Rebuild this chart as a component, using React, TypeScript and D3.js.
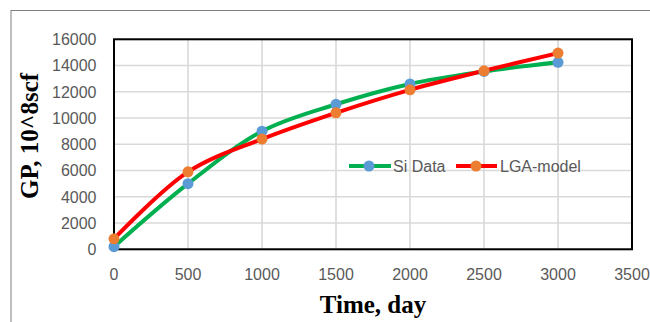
import React from "react";
import * as d3 from "d3";

const days = [0, 500, 1000, 1500, 2000, 2500, 3000];
const siData = [200, 5000, 9000, 11050, 12600, 13550, 14250];
const lgaModel = [800, 5900, 8400, 10400, 12150, 13600, 14950];
const xTicks = [0, 500, 1000, 1500, 2000, 2500, 3000, 3500];
const yTicks = [0, 2000, 4000, 6000, 8000, 10000, 12000, 14000, 16000];
const seriesNames = ["Si Data", "LGA-model"];

const W = 650;
const H = 322;
const plot = { left: 114, right: 632, top: 39.3, bottom: 249.3 };

export default function App() {
  const x = d3.scaleLinear().domain([0, 3500]).range([plot.left, plot.right]);
  const y = d3.scaleLinear().domain([0, 16000]).range([plot.bottom, plot.top]);
  const line = d3
    .line<number>()
    .x((_, i) => x(days[i]))
    .y((d) => y(d))
    .curve(d3.curveCatmullRom.alpha(0.5));

  const series = [
    { name: seriesNames[0], values: siData, line: "#00B050", marker: "#5B9BD5" },
    { name: seriesNames[1], values: lgaModel, line: "#FF0000", marker: "#ED7D31" },
  ];
  const legend = [
    { lx1: 349, lx2: 391, mx: 369, tx: 393 },
    { lx1: 456, lx2: 497, mx: 476, tx: 500 },
  ];
  const legendY = 166;
  const tickFont = "'Liberation Sans', Arial, sans-serif";
  const titleFont = "'Liberation Serif', 'Times New Roman', serif";

  return (
    <svg
      width={W}
      height={H}
      style={{ position: "fixed", left: 0, top: 0, background: "#fff" }}
    >
      <rect x={0} y={0} width={W} height={H} fill="#fff" />
      <rect x={11} y={10.5} width={W + 10} height={H + 10} fill="none" stroke="#7f7f7f" strokeWidth={1} />
      {xTicks.map((t) => (
        <line key={"gx" + t} x1={x(t)} x2={x(t)} y1={plot.top} y2={plot.bottom} stroke="#D9D9D9" strokeWidth={1.6} />
      ))}
      {yTicks.map((t) => (
        <line key={"gy" + t} x1={plot.left} x2={plot.right} y1={y(t)} y2={y(t)} stroke="#D9D9D9" strokeWidth={1.6} />
      ))}
      <rect
        x={plot.left}
        y={plot.top}
        width={plot.right - plot.left}
        height={plot.bottom - plot.top}
        fill="none"
        stroke="#000"
        strokeWidth={2}
      />
      {yTicks.map((t) => (
        <text
          key={"ty" + t}
          x={96.5}
          y={y(t)}
          dy="0.36em"
          textAnchor="end"
          fontFamily={tickFont}
          fontSize={16}
          fill="#595959"
        >
          {t}
        </text>
      ))}
      {xTicks.map((t) => (
        <text
          key={"tx" + t}
          x={x(t)}
          y={274.5}
          dy="0.36em"
          textAnchor="middle"
          fontFamily={tickFont}
          fontSize={16}
          fill="#595959"
        >
          {t}
        </text>
      ))}
      {series.map((s) => (
        <path key={"l" + s.name} d={line(s.values) || ""} fill="none" stroke={s.line} strokeWidth={4} strokeLinecap="round" />
      ))}
      {series.map((s) =>
        s.values.map((v, i) => (
          <circle key={s.name + i} cx={x(days[i])} cy={y(v)} r={5.5} fill={s.marker} />
        ))
      )}
      {series.map((s, k) => (
        <g key={"lg" + s.name}>
          <line x1={legend[k].lx1} x2={legend[k].lx2} y1={legendY} y2={legendY} stroke={s.line} strokeWidth={4} />
          <circle cx={legend[k].mx} cy={legendY} r={5.5} fill={s.marker} />
          <text x={legend[k].tx} y={legendY} dy="0.36em" fontFamily={tickFont} fontSize={16} fill="#595959">
            {s.name}
          </text>
        </g>
      ))}
      <text
        x={373}
        y={313}
        textAnchor="middle"
        fontFamily={titleFont}
        fontWeight="bold"
        fontSize={25}
        fill="#000"
      >
        Time, day
      </text>
      <text
        transform="translate(38,136) rotate(-90)"
        textAnchor="middle"
        fontFamily={titleFont}
        fontWeight="bold"
        fontSize={25}
        fill="#000"
      >
        GP, 10^8scf
      </text>
    </svg>
  );
}
